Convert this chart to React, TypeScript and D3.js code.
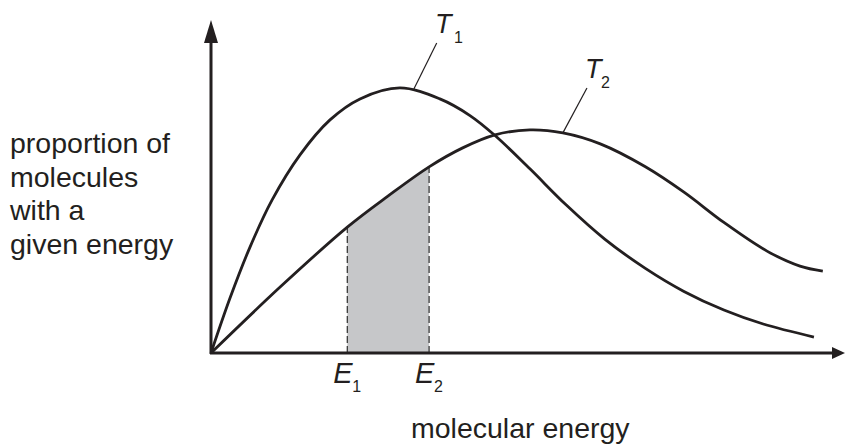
import React from 'react'
import * as d3 from 'd3'

// energy (arbitrary units) vs proportion of molecules
const energyT1 = [0, 3.0, 6.15, 9.62, 14.04, 18.77, 23.5, 29.8, 36.1, 40.85, 44.8, 50.3, 56.0, 62.1, 68.45, 74.6, 80.9, 87.1, 95.1]
const propT1 = [0, 16.5, 31.8, 45.9, 59.5, 70.0, 76.3, 79.6, 76.3, 71.3, 65.3, 55.3, 44.5, 34.2, 25.5, 18.5, 12.9, 8.7, 4.8]

const energyT2 = [0, 10.9, 21.5, 27.9, 34.4, 39.7, 44.8, 50.3, 55.5, 61.4, 68.45, 74.6, 80.9, 87.7, 92.9, 96.5]
const propT2 = [0, 19.8, 37.8, 47.1, 55.9, 61.6, 65.5, 67.0, 66.1, 62.8, 56.0, 48.3, 39.2, 30.6, 26.1, 24.6]

const markers = ['1', '2']
const markerEnergy = [21.5, 34.4]

const curveNames = ['1', '2']
// leader lines: [energy, proportion] on curve -> label end
const leaderFrom = [[32.0, 79.3], [55.5, 66.1]]
const leaderTo = [[35.6, 93.1], [59.3, 79.6]]

const yLabel = ['proportion of', 'molecules', 'with a', 'given energy']
const xLabel = 'molecular energy'

const W = 845
const H = 444
const ink = '#231f20'
const font = '"Liberation Sans", Arial, sans-serif'

const App = () => {
  const x = d3.scaleLinear().domain([0, 100]).range([211, 845])
  const y = d3.scaleLinear().domain([0, 100]).range([353, 20])

  const t1 = energyT1.map((e, i) => [e, propT1[i]] as [number, number])
  const t2 = energyT2.map((e, i) => [e, propT2[i]] as [number, number])

  const curve = d3.curveCatmullRom.alpha(0.5)

  const line = d3.line<[number, number]>()
    .x(d => x(d[0]))
    .y(d => y(d[1]))
    .curve(curve)

  const area = d3.area<[number, number]>()
    .x(d => x(d[0]))
    .y0(y(0))
    .y1(d => y(d[1]))
    .curve(curve)

  const [x0, x1] = x.range()
  const [yb, yt] = y.range()

  return (
    <svg width={W} height={H} viewBox={`0 0 ${W} ${H}`}
      style={{position: 'absolute', left: 0, top: 0, background: '#fff'}}
      fontFamily={font}>
      <defs>
        <clipPath id="under-t2">
          <path d={area(t2) || ''} />
        </clipPath>
      </defs>

      {/* shaded band between E1 and E2 under T2 */}
      <g clipPath="url(#under-t2)">
        <rect x={x(markerEnergy[0])} y={yt} width={x(markerEnergy[1]) - x(markerEnergy[0])}
          height={yb - yt} fill="#c6c7c9" />
        {markerEnergy.map((e, i) => (
          <line key={i} x1={x(e)} x2={x(e)} y1={yb} y2={yt}
            stroke="#3a3a3a" strokeWidth={1.3} strokeDasharray="7,3" />
        ))}
      </g>

      {/* curves */}
      <path d={line(t1) || ''} fill="none" stroke={ink} strokeWidth={2.8} />
      <path d={line(t2) || ''} fill="none" stroke={ink} strokeWidth={2.8} />

      {/* leaders */}
      {curveNames.map((n, i) => (
        <line key={n} x1={x(leaderFrom[i][0])} y1={y(leaderFrom[i][1])}
          x2={x(leaderTo[i][0])} y2={y(leaderTo[i][1])} stroke={ink} strokeWidth={1.2} />
      ))}

      {/* axes */}
      <line x1={x0} x2={x0} y1={yb + 1} y2={yt + 20} stroke={ink} strokeWidth={3} />
      <path d={`M${x0},${yt} L${x0 - 7},${yt + 23} L${x0 + 7},${yt + 23} Z`} fill={ink} />
      <line x1={x0 - 1} x2={x1 - 12} y1={yb} y2={yb} stroke={ink} strokeWidth={3} />
      <path d={`M${x1},${yb} L${x1 - 13},${yb - 6} L${x1 - 13},${yb + 6} Z`} fill={ink} />

      {/* curve labels */}
      <text x={435} y={33} fontSize={27} fontStyle="italic" fill={ink}>T</text>
      <text x={454} y={43} fontSize={16} fill={ink}>{curveNames[0]}</text>
      <text x={585} y={78} fontSize={27} fontStyle="italic" fill={ink}>T</text>
      <text x={601} y={88} fontSize={16} fill={ink}>{curveNames[1]}</text>

      {/* E labels */}
      {markers.map((m, i) => (
        <g key={m}>
          <text x={x(markerEnergy[i]) - 14} y={383} fontSize={29} fontStyle="italic" fill={ink}>E</text>
          <text x={x(markerEnergy[i]) + 5} y={392} fontSize={16} fill={ink}>{m}</text>
        </g>
      ))}

      {/* axis titles */}
      <text fontSize={28.5} fill={ink}>
        {yLabel.map((s, i) => (
          <tspan key={i} x={10} y={153 + i * 33.5}>{s}</tspan>
        ))}
      </text>
      <text x={411} y={438} fontSize={28.5} fill={ink}>{xLabel}</text>
    </svg>
  )
}

export default App
